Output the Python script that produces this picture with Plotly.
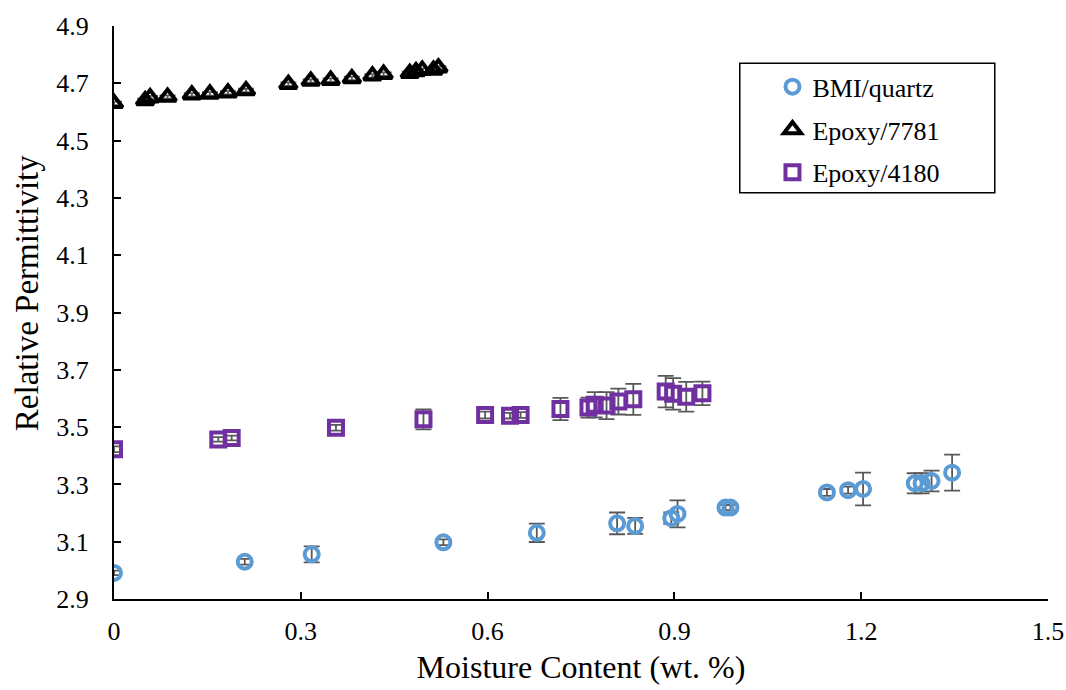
import plotly.graph_objects as go

# BMI/quartz
bmi_x = [0.0, 0.21, 0.3175, 0.529, 0.679, 0.808, 0.837, 0.895, 0.905, 0.982, 0.99,
         1.145, 1.179, 1.203, 1.286, 1.297, 1.313, 1.346]
bmi_y = [2.991, 3.030, 3.056, 3.098, 3.131, 3.164, 3.155, 3.182, 3.197, 3.219, 3.219,
         3.272, 3.280, 3.284, 3.304, 3.304, 3.312, 3.341]
bmi_err = [0.008, 0.010, 0.028, 0.010, 0.032, 0.038, 0.028, 0.020, 0.047, 0.010, 0.010,
           0.012, 0.012, 0.057, 0.035, 0.035, 0.036, 0.063]

# Epoxy/7781
e7781_x = [0.0, 0.050, 0.058, 0.086, 0.125, 0.154, 0.183, 0.212, 0.280, 0.316, 0.348,
           0.382, 0.415, 0.433, 0.475, 0.485, 0.495, 0.513, 0.521]
e7781_y = [4.630, 4.640, 4.650, 4.652, 4.660, 4.663, 4.667, 4.675, 4.697, 4.708, 4.711,
           4.717, 4.726, 4.732, 4.735, 4.741, 4.746, 4.746, 4.754]
e7781_err = [0.006] * len(e7781_x)

# Epoxy/4180
e4180_x = [0.0, 0.1675, 0.189, 0.3565, 0.497, 0.596, 0.636, 0.653, 0.717, 0.762, 0.772,
           0.791, 0.810, 0.834, 0.886, 0.898, 0.919, 0.945]
e4180_y = [3.423, 3.457, 3.462, 3.498, 3.527, 3.542, 3.540, 3.542, 3.563, 3.568, 3.578,
           3.575, 3.589, 3.597, 3.624, 3.616, 3.606, 3.618]
e4180_err = [0.010, 0.008, 0.008, 0.010, 0.035, 0.012, 0.010, 0.010, 0.039, 0.035, 0.044,
             0.047, 0.045, 0.054, 0.055, 0.055, 0.052, 0.041]

x_ticks = [0, 0.3, 0.6, 0.9, 1.2, 1.5]
x_tick_labels = ["0", "0.3", "0.6", "0.9", "1.2", "1.5"]
y_ticks = [2.9, 3.1, 3.3, 3.5, 3.7, 3.9, 4.1, 4.3, 4.5, 4.7, 4.9]
y_tick_labels = ["2.9", "3.1", "3.3", "3.5", "3.7", "3.9", "4.1", "4.3", "4.5", "4.7", "4.9"]

FONT = "Liberation Serif"
ERR_COLOR = "#595959"


def err(vals):
    return dict(type="data", array=vals, visible=True, color=ERR_COLOR,
                thickness=1.8, width=8)


fig = go.Figure()
fig.add_trace(go.Scatter(
    x=bmi_x, y=bmi_y, mode="markers", name="BMI/quartz", legendgroup="a",
    error_y=err(bmi_err),
    marker=dict(symbol="circle-open", size=14, color="#5B9BD5",
                line=dict(width=4, color="#5B9BD5")),
))
fig.add_trace(go.Scatter(
    x=e7781_x, y=e7781_y, mode="markers", name="Epoxy/7781", legendgroup="b",
    error_y=err(e7781_err),
    marker=dict(symbol="triangle-up-open", size=15, color="black",
                line=dict(width=4, color="black")),
))
fig.add_trace(go.Scatter(
    x=e4180_x, y=e4180_y, mode="markers", name="Epoxy/4180", legendgroup="c",
    error_y=err(e4180_err),
    marker=dict(symbol="square-open", size=14, color="#7030A0",
                line=dict(width=4, color="#7030A0")),
))

# Legend frame
fig.add_shape(type="rect", xref="paper", yref="paper",
              x0=0.670, x1=0.943, y0=0.709, y1=0.935,
              line=dict(color="black", width=1.5), fillcolor="white", layer="below")

# Y-axis title
fig.add_annotation(text="Relative Permittivity", xref="paper", yref="paper",
                   x=-0.093, y=0.534, xanchor="center", yanchor="middle",
                   textangle=-90, showarrow=False,
                   font=dict(family=FONT, size=33, color="black"))

fig.update_layout(
    width=1066, height=690,
    margin=dict(l=114, r=18, t=26, b=91, autoexpand=False),
    paper_bgcolor="white", plot_bgcolor="white",
    font=dict(family=FONT, size=26, color="black"),
    showlegend=True,
    legend=dict(x=0.705, y=0.935, xanchor="left", yanchor="top",
                bgcolor="rgba(0,0,0,0)", borderwidth=0,
                traceorder="grouped", tracegroupgap=6,
                font=dict(family=FONT, size=26, color="black")),
    xaxis=dict(
        range=[0, 1.5], tickvals=x_ticks, ticktext=x_tick_labels,
        showgrid=False, zeroline=False, showline=True, linecolor="black", linewidth=2,
        ticks="inside", ticklen=7, tickwidth=2, tickcolor="black",
        ticklabelstandoff=8, automargin=False,
        title=dict(text="Moisture Content (wt. %)", font=dict(size=32), standoff=10),
    ),
    yaxis=dict(
        range=[2.9, 4.9], tickvals=y_ticks, ticktext=y_tick_labels,
        showgrid=False, zeroline=False, showline=True, linecolor="black", linewidth=2,
        ticks="inside", ticklen=7, tickwidth=2, tickcolor="black",
        ticklabelstandoff=18, automargin=False,
    ),
)

fig.write_html("out.html")
